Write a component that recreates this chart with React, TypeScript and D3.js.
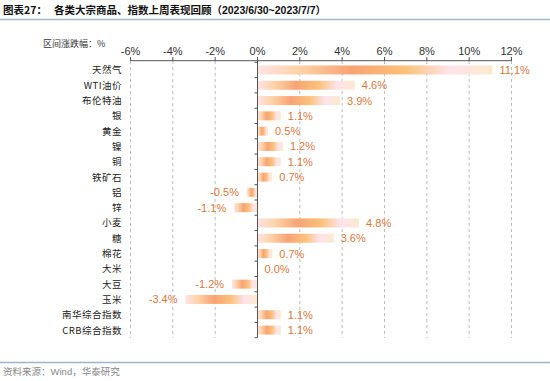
import React from "react";
import * as d3 from "d3";

const categories = ["天然气", "WTI油价", "布伦特油", "银", "黄金", "镍", "铜", "铁矿石", "铝", "锌", "小麦", "糖", "棉花", "大米", "大豆", "玉米", "南华综合指数", "CRB综合指数"];
const values = [11.1, 4.6, 3.9, 1.1, 0.5, 1.2, 1.1, 0.7, -0.5, -1.1, 4.8, 3.6, 0.7, 0.0, -1.2, -3.4, 1.1, 1.1];
const ticks = [-6, -4, -2, 0, 2, 4, 6, 8, 10, 12];

const W = 550, H = 381;

export default function App() {
  const x = d3.scaleLinear().domain([-6, 12]).range([130.5, 511.5]);
  const y = d3.scaleBand<string>().domain(categories).range([62.3, 337.7]).paddingInner(0.42).paddingOuter(0.21);
  const bandStep = y.step();
  const bh = 9;
  const labelColor = "#d9773c";
  const cjk = "'Noto Sans CJK SC', sans-serif";
  const lat = "'Liberation Sans', Arial, sans-serif";
  return (
    <svg width={W} height={H} style={{ position: "absolute", left: 0, top: 0, background: "#fff" }}>
      <defs>
        <linearGradient id="barg" x1="0" x2="1" y1="0" y2="0">
          <stop offset="0" stopColor="#fde3e4" />
          <stop offset="0.18" stopColor="#fcd2a6" />
          <stop offset="0.4" stopColor="#f9a374" />
          <stop offset="0.63" stopColor="#fbc27a" />
          <stop offset="0.82" stopColor="#fde3ec" />
          <stop offset="1" stopColor="#fde9cc" />
        </linearGradient>
      </defs>
      <rect x={0} y={0} width={W} height={H} fill="#fff" />
      <text x={3} y={14} fontFamily={cjk} fontWeight="bold" fontSize={10.5} fill="#111">
        图表27：<tspan dx={7}>各类大宗商品、指数上周表现回顾</tspan><tspan>（</tspan><tspan fontFamily={lat}>2023/6/30~2023/7/7</tspan><tspan>）</tspan>
      </text>
      <line x1={0} x2={W} y1={19.5} y2={19.5} stroke="#9fb4cf" strokeWidth={1.5} />
      <text x={43} y={47} fontFamily={cjk} fontSize={9} fill="#333">区间涨跌幅：%</text>
      {ticks.map((t) => (
        <g key={t}>
          {t !== 0 && (
            <line x1={x(t)} x2={x(t)} y1={61} y2={338} stroke="#bdbdbd" strokeDasharray="3,3" strokeWidth={1} />
          )}
          <line x1={x(t)} x2={x(t)} y1={57} y2={61} stroke="#555" strokeWidth={1} />
          <text x={x(t)} y={55} textAnchor="middle" fontFamily={lat} fontSize={11} fill="#333">{t}%</text>
        </g>
      ))}
      <line x1={x(-6)} x2={x(12)} y1={60.7} y2={60.7} stroke="#555" strokeWidth={1} />
      {categories.map((c, i) => {
        const v = values[i];
        const cy = (y(c) as number) + y.bandwidth() / 2;
        const x0 = x(Math.min(0, v));
        const w = Math.abs(x(v) - x(0));
        return (
          <g key={c}>
            <text x={122} y={cy + 3.5} textAnchor="end" fontFamily={cjk} fontSize={9.5} fill="#222" letterSpacing={0.5}>{c}</text>
            {w > 0 && <rect x={x0} y={cy - bh / 2} width={w} height={bh} fill="url(#barg)" />}
            <text
              x={v >= 0 ? x(v) + 7 : x(v) - 8}
              y={cy + 4}
              textAnchor={v >= 0 ? "start" : "end"}
              fontFamily={lat}
              fontSize={11}
              fill={labelColor}
            >{v.toFixed(1)}%</text>
          </g>
        );
      })}
      <line x1={x(0)} x2={x(0)} y1={60.7} y2={337.7} stroke="#555" strokeWidth={1} />
      {d3.range(categories.length + 1).map((i) => {
        const yy = 62.3 + i * bandStep;
        return <line key={i} x1={x(0) - 3} x2={x(0)} y1={yy} y2={yy} stroke="#555" strokeWidth={1} />;
      })}
      <line x1={0} x2={W} y1={362.5} y2={362.5} stroke="#9fb4cf" strokeWidth={1.5} />
      <text x={3} y={375} fontFamily={cjk} fontSize={9.5} fill="#888">资料来源：<tspan fontFamily={lat}>Wind</tspan>，华泰研究</text>
    </svg>
  );
}
